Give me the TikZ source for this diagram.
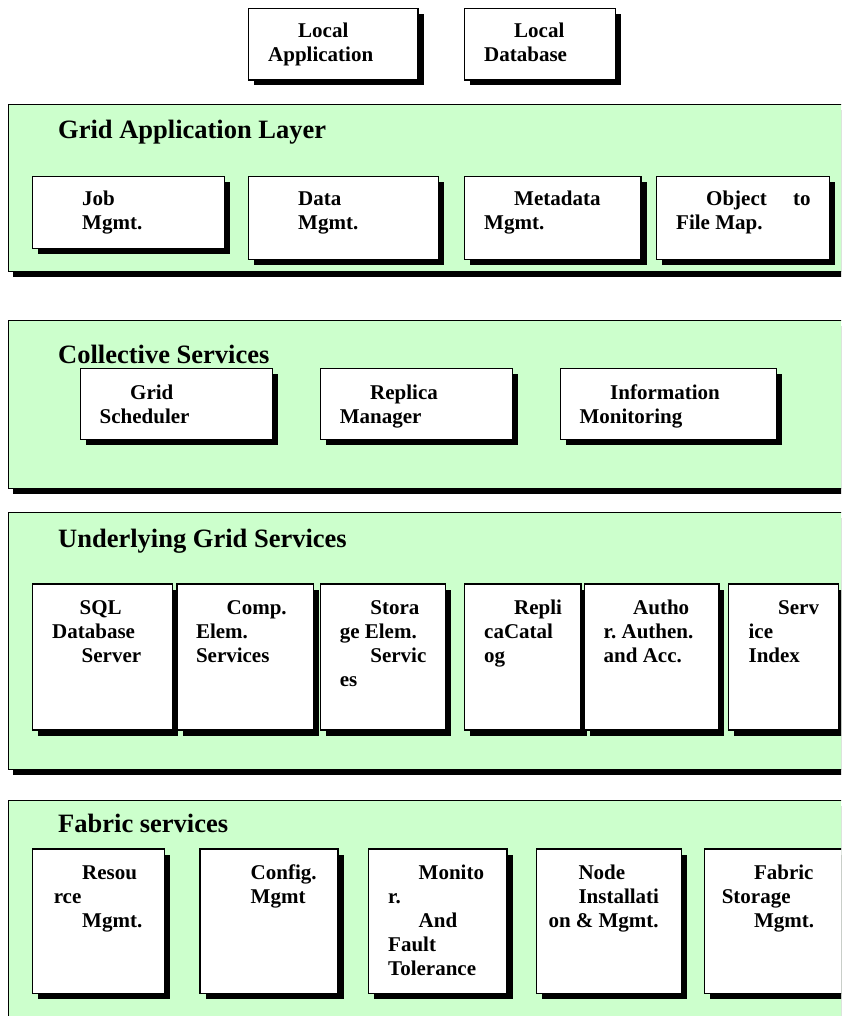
\documentclass[tikz,border=0pt]{standalone}
\usepackage{fontspec}
\setmainfont{Liberation Serif}
\usetikzlibrary{shadows}
\definecolor{layergreen}{HTML}{CCFFCC}
\tikzset{
  panel/.style={draw=black, line width=0.9pt, fill=layergreen, anchor=north west,
    inner sep=0pt, outer sep=0pt,
    drop shadow={shadow xshift=5pt, shadow yshift=-5.5pt, fill=black, opacity=1}},
  unit/.style={draw=black, line width=1.2pt, fill=white, anchor=north west,
    inner sep=0pt, outer sep=0pt,
    drop shadow={shadow xshift=5.5pt, shadow yshift=-5.5pt, fill=black, opacity=1}},
  title/.style={anchor=base west, inner sep=0pt, font=\fontsize{26.5}{30}\selectfont\bfseries},
  lbl/.style={anchor=base west, inner sep=0pt, font=\fontsize{21}{24}\selectfont\bfseries},
}
% rectangle given by its corners (x1,y1) and (x2,y2), y growing downwards
\newcommand\layerbox[5]{\node[panel, minimum width={#4-#2}, minimum height={#5-#3}] (#1) at (#2,#3) {};}
\newcommand\unitbox[5]{\node[unit, minimum width={#4-#2}, minimum height={#5-#3}] (#1) at (#2,#3) {};}
\newcommand\lines[1]{\parbox[t]{200pt}{\raggedright #1}}

\begin{document}
\begin{tikzpicture}[x=1pt, y=-1pt]
\useasboundingbox (0,0) rectangle (841,1016);
\clip (0,0) rectangle (841,1016);

% layers
\layerbox{app}{8}{104.3}{870}{271.7}
\layerbox{col}{8}{320}{870}{488}
\layerbox{und}{8}{512}{870}{769}
\layerbox{fab}{8}{800.5}{870}{1040}

% layer titles
\node[title] (h-app) at (58,139) {Grid Application Layer};
\node[title] (h-col) at (58,363) {Collective Services};
\node[title] (h-und) at (58,547.5) {Underlying Grid Services};
\node[title] (h-fab) at (58,832.5) {Fabric services};

% local components
\unitbox{la}{248.5}{8.3}{418}{80}
\unitbox{ld}{464.6}{8.3}{615.5}{80}

% grid application layer
\unitbox{job}{32.2}{176.7}{224.2}{248.3}
\unitbox{data}{248.4}{176.7}{438.3}{259.3}
\unitbox{meta}{464.6}{176.7}{641}{259.3}
\unitbox{obj}{656.7}{176.7}{829.4}{259.3}

% collective services
\unitbox{gs}{80.5}{368.3}{272.5}{439.3}
\unitbox{rm}{320.3}{368.3}{512.3}{439.3}
\unitbox{im}{560.6}{368.3}{776.8}{439.3}

% underlying grid services
\unitbox{sql}{32.2}{584}{172.7}{730}
\unitbox{comp}{177}{584}{313.8}{730}
\unitbox{sto}{320.3}{584}{445.3}{730}
\unitbox{rep}{464.6}{584}{581}{730}
\unitbox{aut}{584.8}{584}{718.9}{730}
\unitbox{srv}{728.5}{584}{838.5}{730}

% fabric services
\unitbox{res}{32.2}{849}{164.7}{993.3}
\unitbox{cfg}{200}{849}{338}{993.3}
\unitbox{mon}{368.6}{849}{507}{993.3}
\unitbox{nod}{536.5}{849}{681.3}{993.3}
\unitbox{fsm}{704.4}{849}{850}{993.3}

% labels
\node[lbl] (t-la) at (268,38) {\lines{\hspace*{30pt}Local\\Application}};
\node[lbl] (t-ld) at (484,38) {\lines{\hspace*{30pt}Local\\Database}};
\node[lbl] (t-job) at (82,205.5) {\lines{Job\\Mgmt.}};
\node[lbl] (t-data) at (298,205.5) {\lines{Data\\Mgmt.}};
\node[lbl] (t-meta) at (484,205.5) {\lines{\hspace*{30pt}Metadata\\Mgmt.}};
\node[lbl] (t-obj) at (676,205.5) {\lines{\hspace*{30pt}\makebox[87pt][l]{Object}to\\File Map.}};
\node[lbl] (t-gs) at (99.5,399) {\lines{\hspace*{30.5pt}Grid\\Scheduler}};
\node[lbl] (t-rm) at (339.6,399) {\lines{\hspace*{30.4pt}Replica\\Manager}};
\node[lbl] (t-im) at (579.4,399) {\lines{\hspace*{30.6pt}Information\\Monitoring}};
\node[lbl] (t-sql) at (52,614) {\lines{\hspace*{27.4pt}SQL\\Database\\\hspace*{29.5pt}Server}};
\node[lbl] (t-comp) at (195.8,614) {\lines{\hspace*{30.6pt}Comp.\\Elem.\\Services}};
\node[lbl] (t-sto) at (339.6,614) {\lines{\hspace*{30.6pt}Stora\\ge Elem.\\\hspace*{30.6pt}Servic\\es}};
\node[lbl] (t-rep) at (484,614) {\lines{\hspace*{30pt}Repli\\caCatal\\og}};
\node[lbl] (t-aut) at (603.5,614) {\lines{\hspace*{29.5pt}Autho\\r.\ Authen.\\and Acc.}};
\node[lbl] (t-srv) at (748.4,614) {\lines{\hspace*{29.6pt}Serv\\ice\\Index}};
\node[lbl] (t-res) at (53.6,879) {\lines{\hspace*{28.4pt}Resou\\rce\\\hspace*{28.4pt}Mgmt.}};
\node[lbl] (t-cfg) at (250.5,879) {\lines{Config.\\Mgmt}};
\node[lbl] (t-mon) at (388,879) {\lines{\hspace*{30.5pt}Monito\\r.\\\hspace*{30.5pt}And\\Fault\\Tolerance}};
\node[lbl] (t-nod) at (548.3,879) {\lines{\hspace*{30pt}Node\\\hspace*{30pt}Installati\\on \& Mgmt.}};
\node[lbl] (t-fsm) at (721.6,879) {\lines{\hspace*{32.2pt}Fabric\\Storage\\\hspace*{32.2pt}Mgmt.}};
\end{tikzpicture}
\end{document}
